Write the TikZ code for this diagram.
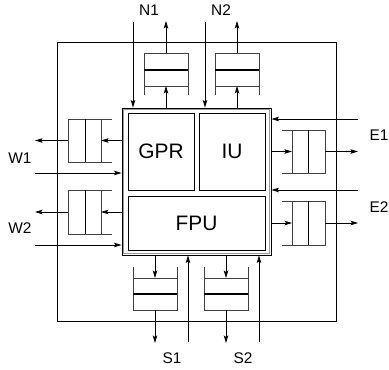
\documentclass[tikz,border=0pt]{standalone}
\usepackage{fontspec}
\setmainfont{Liberation Sans}
\usetikzlibrary{arrows.meta}
\begin{document}
\begin{tikzpicture}[x=1bp,y=-1bp,line width=0.8bp,
  conn/.style={-{Stealth[length=7.5bp,width=4.5bp,inset=1.5bp]}},
  lbl/.style={font=\fontsize{15.5}{15.5}\selectfont,inner sep=0pt},
  unitbox/.style={draw,inner sep=0pt,font=\fontsize{21}{21}\selectfont},
  midline/.style={line width=1.4bp},
  qline/.style={black!75}]
\useasboundingbox (0,0) rectangle (389,370);
% chip outline
\node[draw,minimum width=279bp,minimum height=279bp,inner sep=0pt] (chip) at (196.5,181.5) {};
% core
\node[draw,minimum width=149bp,minimum height=147bp,inner sep=0pt] (core) at (196.5,181.5) {};
\draw[black!40,line width=1.1bp] ([shift={(1.9,1.9)}]core.north west) rectangle ([shift={(-1.9,-1.9)}]core.south east);
\node[unitbox,minimum width=66bp,minimum height=77bp] (gpr) at (161,151.5) {GPR};
\node[unitbox,minimum width=66bp,minimum height=77bp] (iu) at (232,151.5) {IU};
\node[unitbox,minimum width=137bp,minimum height=54bp] (fpu) at (196.5,223) {FPU};
% labels
\node[lbl] (lN1) at (149,10) {N1};
\node[lbl] (lN2) at (221,10) {N2};
\node[lbl] (lW1) at (20,158) {W1};
\node[lbl] (lW2) at (20,228) {W2};
\node[lbl] (lE1) at (379,135) {E1};
\node[lbl] (lE2) at (379,207) {E2};
\node[lbl] (lS1) at (172,358) {S1};
\node[lbl] (lS2) at (243,358) {S2};
% ---------- north buffers
\foreach \xa/\xb/\nm in {144/188/n1,215/259/n2}{
  \draw[qline] (\xa,95) -- (\xa,53) -- (\xb,53) -- (\xb,95);
  \draw[qline] (\xa,86) -- (\xb,86);
  \draw[midline] (\xa,70) -- (\xb,70);
  \coordinate (\nm bot) at ({(\xa+\xb)/2},86);
  \coordinate (\nm top) at ({(\xa+\xb)/2},53);
  \coordinate (\nm out) at ({(\xa+\xb)/2},21);
}
\coordinate (n1in) at (133,22);
\coordinate (n2in) at (205,22);
\foreach \nm in {n1,n2}{
  \draw[conn] (core.north -| \nm bot) -- (\nm bot);
  \draw[conn] (\nm top) -- (\nm out);
  \draw[conn] (\nm in) -- (\nm in |- core.north);
}
% ---------- south buffers
\foreach \xa/\xb/\nm in {133/177/s1,204/248/s2}{
  \draw[qline] (\xa,267) -- (\xa,310) -- (\xb,310) -- (\xb,267);
  \draw[qline] (\xa,278) -- (\xb,278);
  \draw[midline] (\xa,294) -- (\xb,294);
  \coordinate (\nm top) at ({(\xa+\xb)/2},278);
  \coordinate (\nm bot) at ({(\xa+\xb)/2},310);
  \coordinate (\nm out) at ({(\xa+\xb)/2},343);
}
\coordinate (s1in) at (188,342);
\coordinate (s2in) at (259,342);
\foreach \nm in {s1,s2}{
  \draw[conn] (core.south -| \nm top) -- (\nm top);
  \draw[conn] (\nm bot) -- (\nm out);
  \draw[conn] (\nm in) -- (\nm in |- core.south);
}
% ---------- west buffers
\foreach \ya/\yb/\nm in {119/162/w1,190/234/w2}{
  \draw[qline] (112,\ya) -- (68,\ya) -- (68,\yb) -- (112,\yb);
  \draw[qline] (101,\ya) -- (101,\yb);
  \draw[midline,line width=1bp] (85,\ya) -- (85,\yb);
  \coordinate (\nm right) at (101,{(\ya+\yb)/2});
  \coordinate (\nm left) at (68,{(\ya+\yb)/2});
  \coordinate (\nm out) at (35,{(\ya+\yb)/2});
}
\coordinate (w1in) at (35,173);
\coordinate (w2in) at (35,245);
\foreach \nm in {w1,w2}{
  \draw[conn] (core.west |- \nm right) -- (\nm right);
  \draw[conn] (\nm left) -- (\nm out);
  \draw[conn] (\nm in) -- (\nm in -| core.west);
}
% ---------- east buffers
\foreach \ya/\yb/\nm in {130/173/e1,201/245/e2}{
  \draw[qline] (282,\ya) -- (325,\ya) -- (325,\yb) -- (282,\yb);
  \draw[qline] (292,\ya) -- (292,\yb);
  \draw[midline,line width=1bp] (308,\ya) -- (308,\yb);
  \coordinate (\nm left) at (292,{(\ya+\yb)/2});
  \coordinate (\nm right) at (325,{(\ya+\yb)/2});
  \coordinate (\nm out) at (358,{(\ya+\yb)/2});
}
\coordinate (e1in) at (358,119);
\coordinate (e2in) at (358,190);
\foreach \nm in {e1,e2}{
  \draw[conn] (core.east |- \nm left) -- (\nm left);
  \draw[conn] (\nm right) -- (\nm out);
  \draw[conn] (\nm in) -- (\nm in -| core.east);
}
\end{tikzpicture}
\end{document}
